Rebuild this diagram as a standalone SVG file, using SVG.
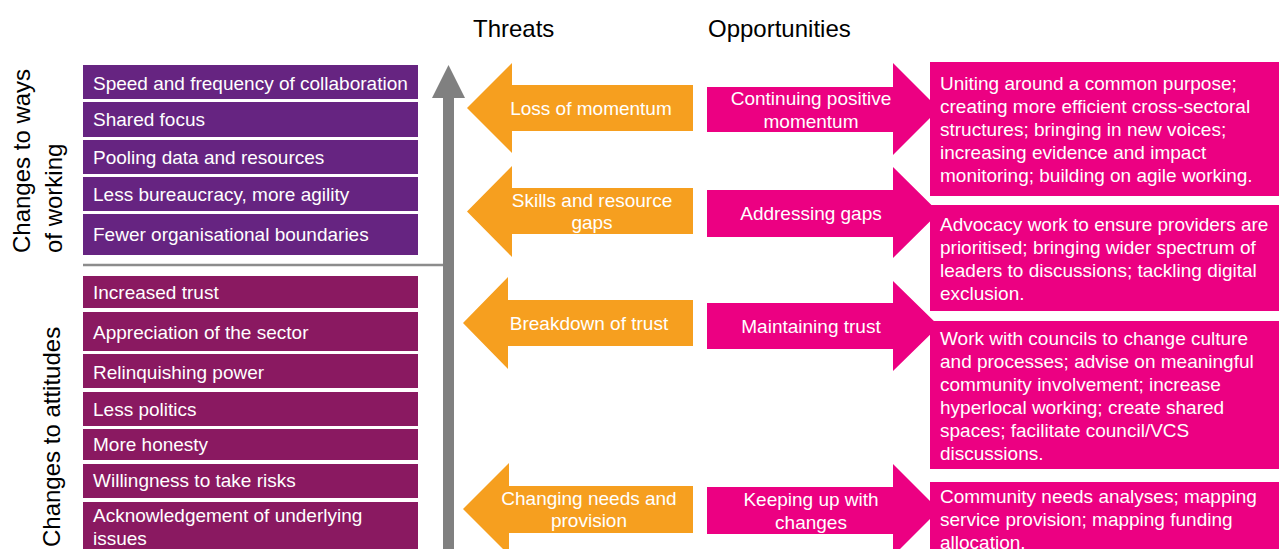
<svg xmlns="http://www.w3.org/2000/svg" width="1279" height="549" viewBox="0 0 1279 549">
  <style>
    .lbl { font-family: "Liberation Sans", Arial, sans-serif; font-size: 19px; fill: #ffffff; }
    .mid { text-anchor: middle; }
    .title { font-family: "Liberation Sans", Arial, sans-serif; font-size: 24px; fill: #000000; }
    .work { fill: #662481; }
    .att { fill: #8A1961; }
    .threat { fill: #F69F1F; }
    .opp { fill: #EC0082; }
    .detail { fill: #EC0082; }
  </style>
  <rect width="1279" height="549" fill="#ffffff"/>

  <!-- column headings -->
  <text class="title" x="473" y="37">Threats</text>
  <text class="title" x="708" y="37">Opportunities</text>

  <!-- side headings -->
  <text class="title" x="30" y="253" transform="rotate(-90 30 253)">Changes to ways</text>
  <text class="title" x="62" y="253" transform="rotate(-90 62 253)">of working</text>
  <text class="title" x="60" y="547" transform="rotate(-90 60 547)">Changes to attitudes</text>

  <!-- connectors: time axis and divider -->
  <g id="connectors">
    <line x1="83" y1="265" x2="446" y2="265" stroke="#8C8C8C" stroke-width="2.5"/>
    <rect x="443" y="96" width="11" height="460" fill="#808080"/>
    <polygon points="448.5,65 465,98 432,98" fill="#808080"/>
  </g>

  <!-- changes to ways of working -->
  <g id="work-1"><rect class="work" x="83" y="65" width="335" height="34"/><text class="lbl" x="93" y="89.5">Speed and frequency of collaboration</text></g>
  <g id="work-2"><rect class="work" x="83" y="102" width="335" height="35"/><text class="lbl" x="93" y="125.5">Shared focus</text></g>
  <g id="work-3"><rect class="work" x="83" y="140" width="335" height="34"/><text class="lbl" x="93" y="163.5">Pooling data and resources</text></g>
  <g id="work-4"><rect class="work" x="83" y="177" width="335" height="34"/><text class="lbl" x="93" y="200.5">Less bureaucracy, more agility</text></g>
  <g id="work-5"><rect class="work" x="83" y="214" width="335" height="41"/><text class="lbl" x="93" y="240.5">Fewer organisational boundaries</text></g>

  <!-- changes to attitudes -->
  <g id="att-1"><rect class="att" x="83" y="276" width="335" height="32"/><text class="lbl" x="93" y="298.5">Increased trust</text></g>
  <g id="att-2"><rect class="att" x="83" y="312" width="335" height="39"/><text class="lbl" x="93" y="338.5">Appreciation of the sector</text></g>
  <g id="att-3"><rect class="att" x="83" y="354" width="335" height="34"/><text class="lbl" x="93" y="378.5">Relinquishing power</text></g>
  <g id="att-4"><rect class="att" x="83" y="392" width="335" height="34"/><text class="lbl" x="93" y="415.5">Less politics</text></g>
  <g id="att-5"><rect class="att" x="83" y="429" width="335" height="31"/><text class="lbl" x="93" y="450.5">More honesty</text></g>
  <g id="att-6"><rect class="att" x="83" y="464" width="335" height="34"/><text class="lbl" x="93" y="486.5">Willingness to take risks</text></g>
  <g id="att-7"><rect class="att" x="83" y="502" width="335" height="60"/><text class="lbl" x="93" y="521.5">Acknowledgement of underlying</text><text class="lbl" x="93" y="544.5">issues</text></g>

  <!-- threats (left-pointing arrows) -->
  <g id="threat-1">
    <polygon class="threat" points="467,108 512,63 512,85 693,85 693,131 512,131 512,153"/>
    <text class="lbl mid" x="591" y="114.5">Loss of momentum</text>
  </g>
  <g id="threat-2">
    <polygon class="threat" points="467,211.5 512,166 512,188 693,188 693,234 512,234 512,257"/>
    <text class="lbl mid" x="592" y="207">Skills and resource</text>
    <text class="lbl mid" x="592" y="229">gaps</text>
  </g>
  <g id="threat-3">
    <polygon class="threat" points="463,323 508,277 508,300 693,300 693,346 508,346 508,369"/>
    <text class="lbl mid" x="589" y="330">Breakdown of trust</text>
  </g>
  <g id="threat-4">
    <polygon class="threat" points="463,509 509,463 509,486 693,486 693,533 509,533 509,555"/>
    <text class="lbl mid" x="589" y="504.5">Changing needs and</text>
    <text class="lbl mid" x="589" y="527">provision</text>
  </g>

  <!-- opportunities (right-pointing arrows) -->
  <g id="opp-1">
    <polygon class="opp" points="707,87 893,87 893,63 939,109 893,155 893,132 707,132"/>
    <text class="lbl mid" x="811" y="105">Continuing positive</text>
    <text class="lbl mid" x="811" y="127.5">momentum</text>
  </g>
  <g id="opp-2">
    <polygon class="opp" points="707,190 893,190 893,167 939,212.5 893,258 893,237 707,237"/>
    <text class="lbl mid" x="811" y="220">Addressing gaps</text>
  </g>
  <g id="opp-3">
    <polygon class="opp" points="707,303 893,303 893,281 939,326 893,371 893,349 707,349"/>
    <text class="lbl mid" x="811" y="332.5">Maintaining trust</text>
  </g>
  <g id="opp-4">
    <polygon class="opp" points="707,487 893,487 893,464 939,510 893,556 893,534 707,534"/>
    <text class="lbl mid" x="811" y="505.5">Keeping up with</text>
    <text class="lbl mid" x="811" y="528.5">changes</text>
  </g>

  <!-- opportunity details -->
  <g id="detail-1">
    <rect class="detail" x="930" y="62" width="360" height="134"/>
    <text class="lbl" x="940" y="89.5">Uniting around a common purpose;</text>
    <text class="lbl" x="940" y="112.5">creating more efficient cross-sectoral</text>
    <text class="lbl" x="940" y="135.5">structures; bringing in new voices;</text>
    <text class="lbl" x="940" y="158.5">increasing evidence and impact</text>
    <text class="lbl" x="940" y="181.5">monitoring; building on agile working.</text>
  </g>
  <g id="detail-2">
    <rect class="detail" x="930" y="205" width="360" height="106"/>
    <text class="lbl" x="940" y="231">Advocacy work to ensure providers are</text>
    <text class="lbl" x="940" y="254">prioritised; bringing wider spectrum of</text>
    <text class="lbl" x="940" y="277">leaders to discussions; tackling digital</text>
    <text class="lbl" x="940" y="300">exclusion.</text>
  </g>
  <g id="detail-3">
    <rect class="detail" x="930" y="321" width="360" height="148"/>
    <text class="lbl" x="940" y="344.5">Work with councils to change culture</text>
    <text class="lbl" x="940" y="367.5">and processes; advise on meaningful</text>
    <text class="lbl" x="940" y="390.5">community involvement; increase</text>
    <text class="lbl" x="940" y="413.5">hyperlocal working; create shared</text>
    <text class="lbl" x="940" y="436.5">spaces; facilitate council/VCS</text>
    <text class="lbl" x="940" y="459.5">discussions.</text>
  </g>
  <g id="detail-4">
    <rect class="detail" x="930" y="482" width="360" height="80"/>
    <text class="lbl" x="940" y="502.5">Community needs analyses; mapping</text>
    <text class="lbl" x="940" y="525.5">service provision; mapping funding</text>
    <text class="lbl" x="940" y="548.5">allocation.</text>
  </g>
</svg>
